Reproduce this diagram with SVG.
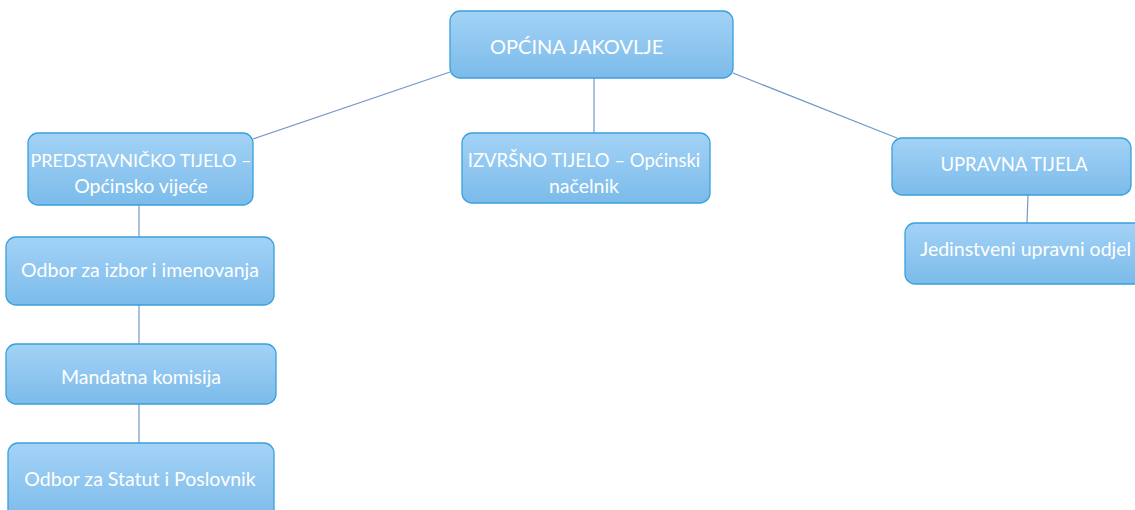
<svg xmlns="http://www.w3.org/2000/svg" width="1135" height="510" viewBox="0 0 1135 510">
<defs>
<linearGradient id="g" x1="0" y1="0" x2="0" y2="1">
<stop offset="0" stop-color="#a3d2f6"/>
<stop offset="1" stop-color="#7bbbea"/>
</linearGradient>
<style>
.box{fill:url(#g);stroke:#3aa0dc;stroke-width:1.3}
.t{font-family:Lato,"Open Sans","Liberation Sans",sans-serif;font-size:19.5px;fill:#ffffff}
.c{text-anchor:middle}
.ln{stroke:#7399c8;stroke-width:1.2;fill:none}
</style>
</defs>
<rect width="1135" height="510" fill="#ffffff"/>
<g id="connectors">
<line class="ln" x1="450" y1="72" x2="253" y2="139"/>
<line class="ln" x1="594" y1="78" x2="594" y2="133"/>
<line class="ln" x1="733" y1="73" x2="897" y2="138"/>
<line class="ln" x1="1028" y1="195" x2="1027" y2="223"/>
<line class="ln" x1="139" y1="205" x2="139" y2="237"/>
<line class="ln" x1="139" y1="305" x2="139" y2="344"/>
<line class="ln" x1="139" y1="404" x2="139" y2="443"/>
</g>
<g id="n-opcina">
<rect class="box" x="450" y="11" width="283" height="67" rx="10"/>
<text class="t" x="490" y="54" style="font-size:20px">OPĆINA JAKOVLJE</text>
</g>
<g id="n-predstavnicko">
<rect class="box" x="28" y="133" width="225" height="72" rx="10"/>
<text class="t c" x="141" y="167" style="font-size:18px">PREDSTAVNIČKO TIJELO –</text>
<text class="t c" x="141" y="193">Općinsko vijeće</text>
</g>
<g id="n-izvrsno">
<rect class="box" x="462" y="133" width="248" height="70" rx="10"/>
<text class="t c" x="584" y="167" style="font-size:18.5px">IZVRŠNO TIJELO – Općinski</text>
<text class="t c" x="584" y="193">načelnik</text>
</g>
<g id="n-upravna">
<rect class="box" x="892" y="138" width="239" height="57" rx="10"/>
<text class="t c" x="1014" y="171" style="font-size:18.5px">UPRAVNA TIJELA</text>
</g>
<g id="n-jedinstveni">
<rect class="box" x="905" y="223" width="240" height="61" rx="10"/>
<text class="t" x="920" y="256">Jedinstveni upravni odjel</text>
</g>
<g id="n-odbor-izbor">
<rect class="box" x="6" y="237" width="268" height="68" rx="10"/>
<text class="t c" x="140" y="277">Odbor za izbor i imenovanja</text>
</g>
<g id="n-mandatna">
<rect class="box" x="6" y="344" width="270" height="60" rx="10"/>
<text class="t c" x="141" y="384">Mandatna komisija</text>
</g>
<g id="n-odbor-statut">
<rect class="box" x="8" y="443" width="266" height="80" rx="10"/>
<text class="t c" x="140" y="486">Odbor za Statut i Poslovnik</text>
</g>
</svg>
